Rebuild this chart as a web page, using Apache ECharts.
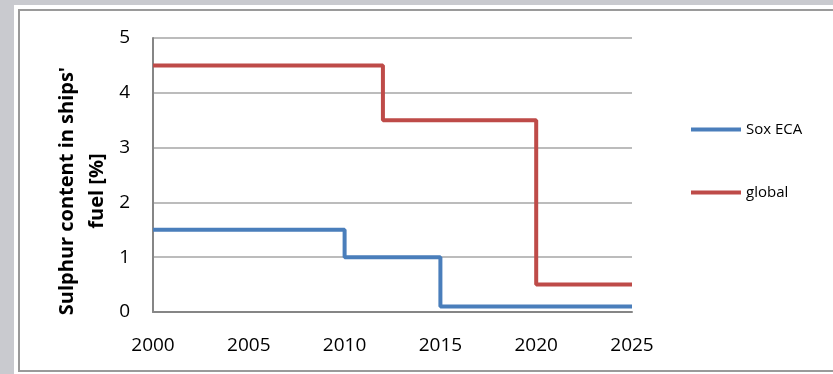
<!DOCTYPE html>
<html>
<head>
<meta charset="utf-8">
<script src="https://cdn.jsdelivr.net/npm/echarts@6/dist/echarts.min.js"></script>
<style>
	html, body { margin: 0; padding: 0; background: #c9cacf; }
	#chart { width: 833px; height: 374px; }
</style>
</head>
<body>
<div id="chart"></div>
<script>
// ticks on the year axis and the value axis
var yearTicks = [2000, 2005, 2010, 2015, 2020, 2025];
var valueTicks = [0, 1, 2, 3, 4, 5];

// step points: value holds until the next year
var soxYears = [2000, 2010, 2015, 2025];
var soxValues = [1.5, 1.0, 0.1, 0.1];

var globalYears = [2000, 2012, 2020, 2025];
var globalValues = [4.5, 3.5, 0.5, 0.5];

var seriesNames = ['Sox ECA', 'global'];

function pairs(xs, ys)
{
	var out = [];
	for (var i = 0; i < xs.length; i++) {
		out.push([xs[i], ys[i]]);
	}
	return out;
}

var font = '"Open Sans", "Liberation Sans", sans-serif';
var chart = echarts.init(document.getElementById('chart'));

var option = {
	backgroundColor: 'transparent',
	animation: false,
	graphic: [
		{
			type: 'rect',
			z: -10,
			shape: { x: 14, y: 5, width: 830, height: 375 },
			style: { fill: '#ffffff' }
		},
		{
			type: 'rect',
			z: -9,
			shape: { x: 19, y: 10, width: 830, height: 361 },
			style: { fill: '#ffffff', stroke: '#9a9a9a', lineWidth: 2 }
		},
		{
			type: 'text',
			x: 82,
			y: 191,
			rotation: Math.PI / 2,
			style: {
				text: "Sulphur content in ships'\nfuel [%]",
				font: 'bold 20px ' + font,
				lineHeight: 30,
				fill: '#000000',
				align: 'center',
				verticalAlign: 'middle'
			}
		}
	],
	grid: {
		left: 153,
		right: 201,
		top: 38,
		bottom: 62,
		containLabel: false
	},
	legend: {
		orient: 'vertical',
		left: 691,
		top: 122,
		padding: 0,
		itemWidth: 50,
		itemHeight: 4,
		itemGap: 48,
		icon: 'rect',
		data: seriesNames,
		textStyle: { fontFamily: font, fontSize: 15, color: '#000000' }
	},
	xAxis: {
		type: 'value',
		min: yearTicks[0],
		max: yearTicks[yearTicks.length - 1],
		interval: yearTicks[1] - yearTicks[0],
		axisLine: { show: true, lineStyle: { color: '#868686', width: 2 } },
		axisTick: { show: false },
		splitLine: { show: false },
		axisLabel: {
			margin: 24,
			fontFamily: font,
			fontSize: 19,
			color: '#000000',
			formatter: function (v) { return String(v); }
		}
	},
	yAxis: {
		type: 'value',
		min: valueTicks[0],
		max: valueTicks[valueTicks.length - 1],
		interval: 1,
		axisLine: { show: true, lineStyle: { color: '#868686', width: 2 } },
		axisTick: { show: false },
		splitLine: { show: true, lineStyle: { color: '#a6a6a6', width: 1.5 } },
		axisLabel: {
			margin: 23,
			fontFamily: font,
			fontSize: 19,
			color: '#000000'
		}
	},
	series: [
		{
			name: seriesNames[0],
			type: 'line',
			step: 'end',
			symbol: 'none',
			color: '#4a7ebb',
			lineStyle: { width: 4, color: '#4a7ebb' },
			data: pairs(soxYears, soxValues)
		},
		{
			name: seriesNames[1],
			type: 'line',
			step: 'end',
			symbol: 'none',
			color: '#be4b48',
			lineStyle: { width: 4, color: '#be4b48' },
			data: pairs(globalYears, globalValues)
		}
	]
};

chart.setOption(option);
</script>
</body>
</html>
